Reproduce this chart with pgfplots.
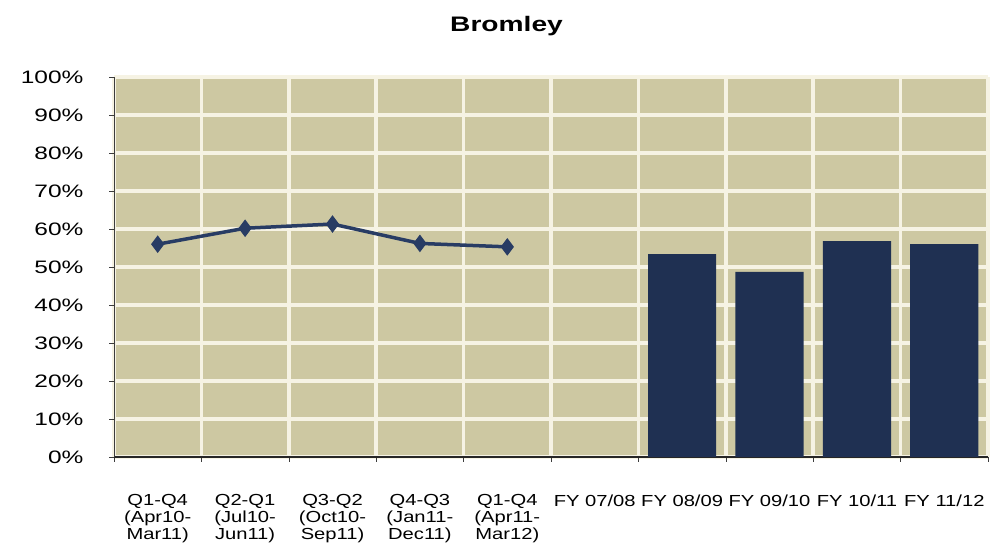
\documentclass[border=0pt]{standalone}
\usepackage{pgfplots}
\pgfplotsset{compat=1.18}
\usepackage{fontspec}
\setmainfont{Liberation Sans}
\newfontfamily\titlefont{Liberation Sans}[FakeStretch=1.34]
\newfontfamily\ylabfont{Liberation Sans}[FakeStretch=1.36]
\newfontfamily\xlabfont{Liberation Sans}[FakeStretch=1.26]

\definecolor{plotbg}{RGB}{205,200,162}
\definecolor{gridwhite}{RGB}{246,243,228}
\definecolor{barnavy}{RGB}{31,48,82}
\definecolor{linenavy}{RGB}{40,60,100}
\definecolor{axisgray}{RGB}{60,60,60}

\begin{document}
\begin{tikzpicture}[x=1bp,y=1bp]
\path[use as bounding box] (0,0) rectangle (994,552);
\node[anchor=base, font=\titlefont\bfseries\fontsize{21bp}{24bp}\selectfont]
  at (506.5,520) {Bromley};
\begin{axis}[
  at={(114bp,95bp)}, anchor=south west,
  scale only axis, width=874bp, height=380bp,
  xmin=0, xmax=10, ymin=0, ymax=100,
  axis background/.style={fill=plotbg},
  axis x line*=bottom, axis y line*=left,
  axis line style={axisgray, line width=0.8bp, -},
  x axis line style={black!85, line width=1.4bp},
  xtick={0,1,...,10},
  x tick label as interval,
  xticklabels={
    {Q1-Q4\\(Apr10-\\Mar11)},
    {Q2-Q1\\(Jul10-\\Jun11)},
    {Q3-Q2\\(Oct10-\\Sep11)},
    {Q4-Q3\\(Jan11-\\Dec11)},
    {Q1-Q4\\(Apr11-\\Mar12)},
    FY 07/08, FY 08/09, FY 09/10, FY 10/11, FY 11/12},
  xticklabel style={align=center, anchor=north, yshift=-29bp,
    font=\xlabfont\fontsize{16bp}{17bp}\selectfont},
  ytick={0,10,...,100},
  yticklabels={0\%,10\%,20\%,30\%,40\%,50\%,60\%,70\%,80\%,90\%,100\%},
  yticklabel style={font=\ylabfont\fontsize{18bp}{20bp}\selectfont, xshift=-22bp},
  tick align=outside,
  major tick length=5bp,
  tick style={axisgray, line width=0.6bp},
  grid=major,
  major grid style={gridwhite, line width=3.5bp},
  clip=false,
]
% financial-year results as bars
\addplot[ybar, bar width=0.78, fill=barnavy, draw=none]
  coordinates {(6.5,53.4) (7.5,48.7) (8.5,56.8) (9.5,56.0)};
% rolling four-quarter results as a line
\addplot[linenavy, line width=3.5bp, mark=diamond*, mark size=8bp,
  mark options={fill=linenavy, draw=linenavy, line width=1bp}]
  coordinates {(0.5,56.0) (1.5,60.2) (2.5,61.3) (3.5,56.2) (4.5,55.3)};
\end{axis}
\end{tikzpicture}
\end{document}
